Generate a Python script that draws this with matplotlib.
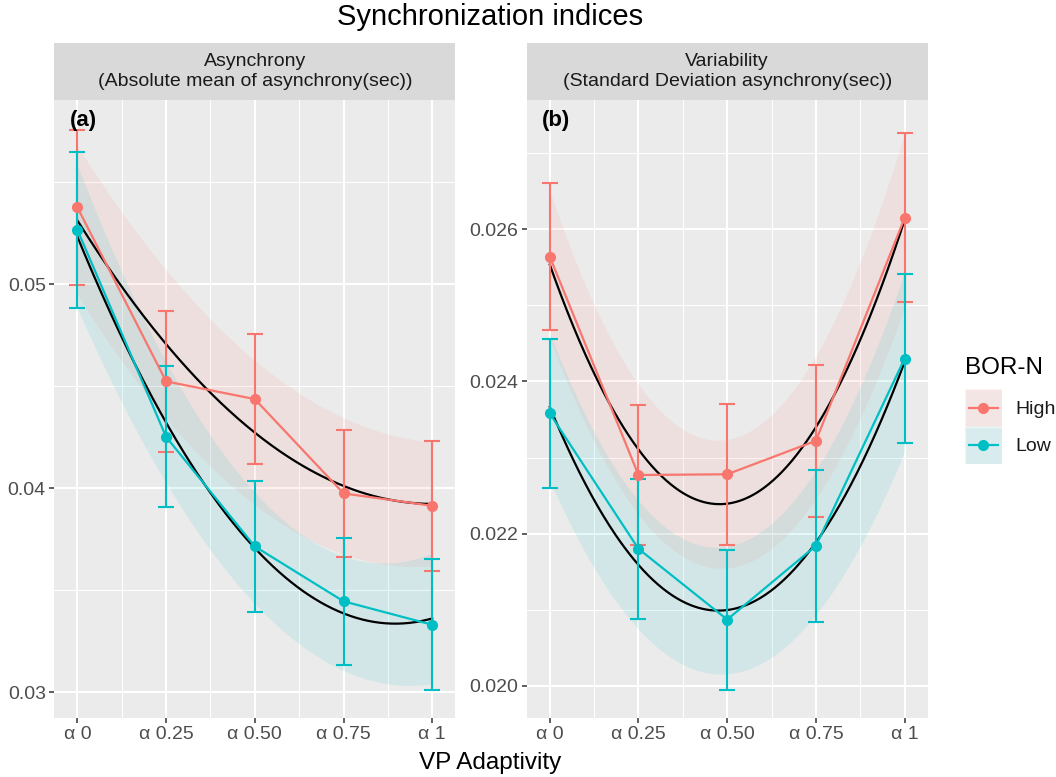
import numpy as np
import matplotlib
matplotlib.use("Agg")
import matplotlib.pyplot as plt
from matplotlib.patches import Rectangle
from matplotlib.ticker import FixedLocator

plt.rcParams['font.family'] = ['Liberation Sans', 'DejaVu Sans']

# ---- data -------------------------------------------------------------
alpha_levels = [0.0, 0.25, 0.5, 0.75, 1.0]
alpha_labels = ['α 0', 'α 0.25', 'α 0.50', 'α 0.75', 'α 1']
groups = ['High', 'Low']

# Asynchrony: absolute mean of asynchrony (sec)
asy_high_mean = [0.05377, 0.04524, 0.04437, 0.03975, 0.03914]
asy_high_err = [0.00380, 0.00345, 0.00318, 0.00312, 0.00319]
asy_low_mean = [0.05267, 0.04252, 0.03715, 0.03446, 0.03331]
asy_low_err = [0.00383, 0.00345, 0.00320, 0.00312, 0.00320]
asy_high_band = [0.0037, 0.0035, 0.0036, 0.0034, 0.0030]
asy_low_band = [0.0035, 0.0030, 0.0027, 0.0028, 0.0032]

# Variability: standard deviation of asynchrony (sec)
var_high_mean = [0.02564, 0.02277, 0.02278, 0.02322, 0.02615]
var_high_err = [0.00097, 0.00092, 0.00093, 0.00100, 0.00111]
var_low_mean = [0.02358, 0.02180, 0.02087, 0.02184, 0.02430]
var_low_err = [0.00098, 0.00092, 0.00092, 0.00100, 0.00111]
var_high_band = [0.00095, 0.00090, 0.00084, 0.00090, 0.00116]
var_low_band = [0.00095, 0.00088, 0.00085, 0.00090, 0.00120]

strip_titles = ['Asynchrony\n(Absolute mean of asynchrony(sec))',
                'Variability\n(Standard Deviation asynchrony(sec))']
panel_tags = ['(a)', '(b)']
asy_major = [0.03, 0.04, 0.05]
asy_minor = [0.035, 0.045, 0.055]
var_major = [0.020, 0.022, 0.024, 0.026]
var_minor = [0.021, 0.023, 0.025, 0.027]

# ---- style ------------------------------------------------------------
COLORS = {'High': '#F8766D', 'Low': '#00BFC4'}
PANEL_BG = '#EBEBEB'
STRIP_BG = '#D9D9D9'
BAND_ALPHA = 0.1

W, H = 1056, 777
fig = plt.figure(figsize=(W / 100, H / 100), dpi=100)


def px_axes(x0, y0, x1, y1):
    return fig.add_axes([x0 / W, 1 - y1 / H, (x1 - x0) / W, (y1 - y0) / H])


panels = [
    dict(box=(54.3, 100, 455.3, 718), ylim=(0.02874, 0.05903),
         major=asy_major, minor=asy_minor, fmt='{:.2f}',
         series={'High': (asy_high_mean, asy_high_err, asy_high_band),
                 'Low': (asy_low_mean, asy_low_err, asy_low_band)}),
    dict(box=(526.7, 100, 927.7, 718), ylim=(0.019576, 0.0277),
         major=var_major, minor=var_minor, fmt='{:.3f}',
         series={'High': (var_high_mean, var_high_err, var_high_band),
                 'Low': (var_low_mean, var_low_err, var_low_band)}),
]

x = np.array(alpha_levels)
xs = np.linspace(0, 1, 300)

for i, p in enumerate(panels):
    x0, y0, x1, y1 = p['box']
    ax = px_axes(x0, y0, x1, y1)
    ax.set_facecolor(PANEL_BG)
    for s in ax.spines.values():
        s.set_visible(False)
    ax.set_xlim(-0.065, 1.065)
    ax.set_ylim(*p['ylim'])

    ax.xaxis.set_major_locator(FixedLocator(alpha_levels))
    ax.xaxis.set_minor_locator(FixedLocator([0.125, 0.375, 0.625, 0.875]))
    ax.set_xticklabels(alpha_labels)
    ax.yaxis.set_major_locator(FixedLocator(p['major']))
    ax.yaxis.set_minor_locator(FixedLocator(p['minor']))
    ax.set_yticklabels([p['fmt'].format(v) for v in p['major']])
    ax.grid(which='major', color='white', lw=1.5, zorder=0)
    ax.grid(which='minor', color='white', lw=0.75, zorder=0)
    ax.set_axisbelow(True)
    ax.tick_params(which='major', length=3.6, width=1.1, color='#333333',
                   labelcolor='#4D4D4D', labelsize=14, pad=2.5)
    ax.tick_params(which='minor', length=0)

    # quadratic trend with confidence band
    for g in groups:
        mean, err, band = p['series'][g]
        coef = np.polyfit(x, mean, 2)
        fit = np.polyval(coef, xs)
        half = np.polyval(np.polyfit(x, band, 2), xs)
        ax.fill_between(xs, fit - half, fit + half, color=COLORS[g],
                        alpha=BAND_ALPHA, lw=0, zorder=1)
    for g in groups:
        mean, err, band = p['series'][g]
        coef = np.polyfit(x, mean, 2)
        ax.plot(xs, np.polyval(coef, xs), color='black', lw=1.6, zorder=2)

    # group means with error bars
    for g in groups:
        mean, err, band = p['series'][g]
        ax.errorbar(x, mean, yerr=err, fmt='none', ecolor=COLORS[g],
                    elinewidth=1.5, capsize=6, capthick=1.5, zorder=3)
        ax.plot(x, mean, color=COLORS[g], lw=1.6, marker='o',
                markersize=7, zorder=4)

    ax.text(0.039, 0.984, panel_tags[i], transform=ax.transAxes,
            fontsize=16, fontweight='bold', ha='left', va='top', zorder=5)

    # facet strip
    sax = px_axes(x0, 43.3, x1, 100)
    sax.set_facecolor(STRIP_BG)
    sax.set_xticks([])
    sax.set_yticks([])
    for s in sax.spines.values():
        s.set_visible(False)
    sax.text(0.5, 0.5, strip_titles[i], transform=sax.transAxes,
             ha='center', va='center', fontsize=14, color='#1A1A1A',
             linespacing=1.2)

fig.text(490.5 / W, 1 - 17 / H, 'Synchronization indices', ha='center',
         va='center', fontsize=21)
fig.text(490.5 / W, 1 - 763 / H, 'VP Adaptivity', ha='center',
         va='center', fontsize=17.5)

# legend
fig.text(965 / W, 1 - 368 / H, 'BOR-N', ha='left', va='center', fontsize=17.5)
lax = px_axes(965, 389.3, 1001.7, 464)
lax.set_xlim(0, 1)
lax.set_ylim(0, 2)
lax.axis('off')
for k, g in enumerate(groups):
    yb = 1 - k
    lax.add_patch(Rectangle((0, yb), 1, 1, facecolor='#F2F2F2',
                            edgecolor='white', lw=1.0, zorder=0))
    lax.add_patch(Rectangle((0, yb), 1, 1, facecolor=COLORS[g],
                            alpha=BAND_ALPHA, lw=0, zorder=1))
    lax.plot([0.1, 0.9], [yb + 0.5, yb + 0.5], color=COLORS[g], lw=1.6,
             zorder=2)
    lax.plot([0.5], [yb + 0.5], 'o', color=COLORS[g], markersize=7, zorder=3)
    fig.text(1015.7 / W, 1 - (409 + 38 * k) / H, g, ha='left', va='center',
             fontsize=14, color='#1A1A1A')

fig.savefig('out.png', dpi=100)
